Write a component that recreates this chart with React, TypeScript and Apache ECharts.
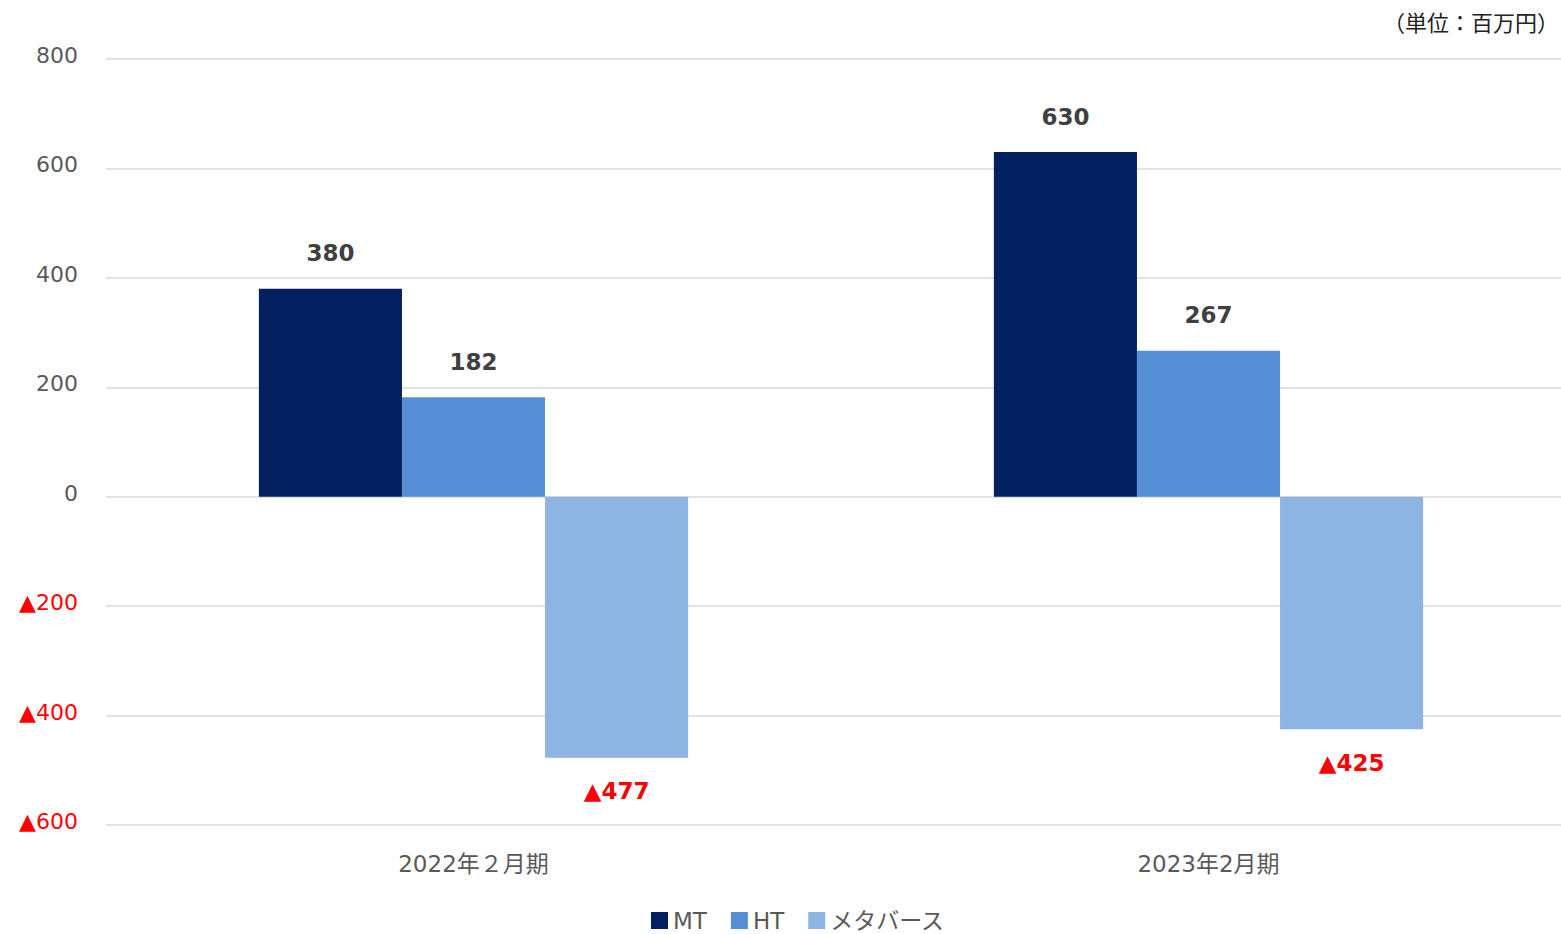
import React, { useEffect, useRef } from "react";
import * as echarts from "echarts";

const categories = ["2022年２月期", "2023年2月期"];
const seriesNames = ["MT", "HT", "メタバース"];
const mtValues = [380, 630];
const htValues = [182, 267];
const metaValues = [-477, -425];
const colors = ["#02205F", "#558ED5", "#8EB4E3"];
const unitLabel = "（単位：百万円）";

const FONT = "'DejaVu Sans', 'Noto Sans CJK JP', sans-serif";

const fmtNum = (v: number) => (v < 0 ? "{neg|▲" + Math.abs(v) + "}" : "{pos|" + v + "}");

export default function App() {
  const ref = useRef<HTMLDivElement>(null);
  useEffect(() => {
    if (!ref.current) return;
    const chart = echarts.init(ref.current, undefined, { renderer: "svg" });
    const labelCfg = {
      show: true,
      formatter: (p: any) => fmtNum(p.value),
      rich: {
        pos: { color: "#404040", fontSize: 23, fontWeight: "bold", fontFamily: FONT },
        neg: { color: "#FF0000", fontSize: 23, fontWeight: "bold", fontFamily: FONT },
      },
    };
    const mk = (name: string, data: number[], color: string) => ({
      name,
      type: "bar",
      data: data.map((v) => ({
        value: v,
        label: { position: v < 0 ? "bottom" : "top", distance: v < 0 ? 22 : 24 },
      })),
      itemStyle: { color },
      barGap: "0%",
      barCategoryGap: "41.6%",
      label: labelCfg,
    });
    chart.setOption({
      animation: false,
      textStyle: { fontFamily: FONT },
      graphic: [
        {
          type: "text",
          right: 2,
          top: 12,
          style: { text: unitLabel, fontSize: 22, fill: "#222", fontFamily: FONT },
        },
      ],
      legend: {
        bottom: -3,
        left: 646,
        itemWidth: 17,
        itemHeight: 17,
        itemGap: 24,
        icon: "rect",
        textStyle: { fontSize: 23, color: "#595959", fontFamily: FONT },
        data: seriesNames,
      },
      grid: {
        left: 106,
        width: 1470,
        top: 59,
        bottom: 109,
        containLabel: false,
        outerBoundsMode: "none",
      },
      xAxis: {
        type: "category",
        data: categories,
        axisLine: { show: false },
        axisTick: { show: false },
        axisLabel: { fontSize: 23, color: "#595959", margin: 27, fontFamily: FONT },
      },
      yAxis: {
        type: "value",
        min: -600,
        max: 800,
        interval: 200,
        axisLine: { show: false },
        axisTick: { show: false },
        splitLine: { lineStyle: { color: "#D9D9D9", width: 1.5 } },
        axisLabel: {
          margin: 28,
          padding: [0, 0, 7, 0],
          formatter: (v: number) => fmtNum(v),
          rich: {
            pos: { color: "#595959", fontSize: 22, fontFamily: FONT },
            neg: { color: "#FF0000", fontSize: 22, fontFamily: FONT },
          },
        },
      },
      series: [
        mk(seriesNames[0], mtValues, colors[0]),
        mk(seriesNames[1], htValues, colors[1]),
        mk(seriesNames[2], metaValues, colors[2]),
      ],
    });
    return () => chart.dispose();
  }, []);
  return (
    <div
      style={{
        position: "fixed",
        left: 0,
        top: 0,
        width: 1561,
        height: 934,
        overflow: "hidden",
        background: "#fff",
      }}
    >
      <div ref={ref} style={{ width: 1561, height: 934 }} />
    </div>
  );
}
